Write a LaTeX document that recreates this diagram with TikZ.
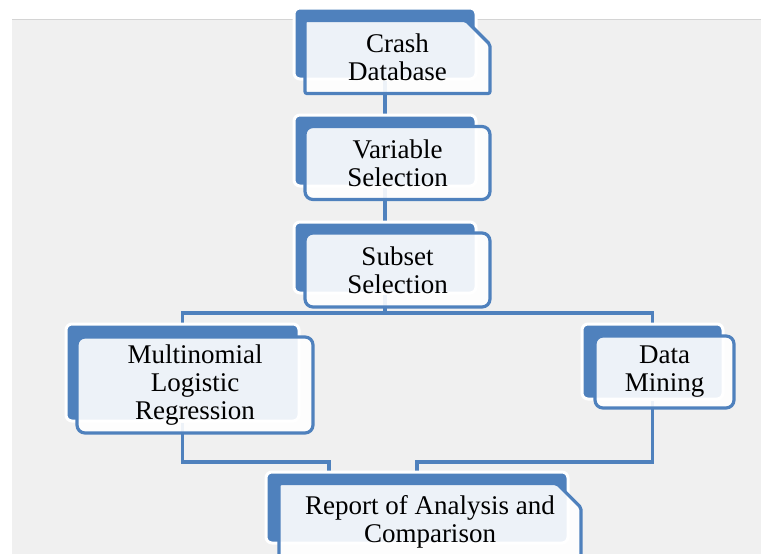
\documentclass[tikz,border=0pt]{standalone}
\usepackage{fontspec}
\setmainfont{Liberation Serif}
\usetikzlibrary{shapes.misc}
\definecolor{flowblue}{RGB}{79,129,189}
\definecolor{panelgray}{RGB}{240,240,240}
\definecolor{rulegray}{RGB}{212,212,212}
\pgfdeclarelayer{panel}
\pgfdeclarelayer{links}
\pgfsetlayers{panel,links,main}
\begin{document}
\begin{tikzpicture}[x=1pt, y=-1pt,
    backbox/.style={draw=white, line width=3pt, fill=flowblue, rounded corners=6pt, inner sep=0pt},
    frontbox/.style={draw=flowblue, line width=3.2pt, fill=white, fill opacity=0.9, text opacity=1,
        rounded corners=8pt, inner sep=0pt, align=center, font=\fontsize{27}{28}\selectfont},
    snipbox/.style={frontbox, shape=chamfered rectangle, chamfered rectangle corners=north east,
        chamfered rectangle xsep=12pt, chamfered rectangle ysep=12pt, rounded corners=2pt},
    link/.style={draw=flowblue, line width=3.2pt}]
    \useasboundingbox (0,0) rectangle (761,554);
    \begin{pgfonlayer}{panel}
        \fill[panelgray] (12,19) rectangle (761,554);
        \draw[rulegray, line width=1pt] (12,19) -- (761,19);
    \end{pgfonlayer}

    % shadow boxes behind
    \node[backbox, minimum width=182, minimum height=71] (crashB) at (385,43.5) {};
    \node[backbox, minimum width=182, minimum height=71] (varB) at (385,150.5) {};
    \node[backbox, minimum width=182, minimum height=71] (subB) at (385,257.5) {};
    \node[backbox, minimum width=233, minimum height=97] (mlrB) at (182.5,372.5) {};
    \node[backbox, minimum width=141, minimum height=75] (dmB) at (652.5,361.5) {};
    \node[backbox, minimum width=302, minimum height=71] (repB) at (417,507.5) {};

    % front boxes with the text
    \node[snipbox, minimum width=185, minimum height=73] (crash) at (397.5,57) {Crash\\Database};
    \node[frontbox, minimum width=185, minimum height=73] (var) at (397.5,163) {Variable\\Selection};
    \node[frontbox, minimum width=185, minimum height=74] (sub) at (397.5,270) {Subset\\Selection};
    \node[frontbox, minimum width=236, minimum height=96] (mlr) at (195,385) {Multinomial\\Logistic\\Regression};
    \node[frontbox, minimum width=139, minimum height=72] (dm) at (664.5,372) {Data\\Mining};
    \node[snipbox, minimum width=302, minimum height=73] (rep) at (430,522) {Report of Analysis and\\Comparison};

    \coordinate (fork) at (385,313);
    \coordinate (joinL) at (329,462);
    \coordinate (joinR) at (417,462);
    \begin{pgfonlayer}{links}
        \draw[link] (crashB) -- (varB);
        \draw[link] (varB) -- (subB);
        \draw[link] (subB) -- (fork);
        \draw[link] (mlrB) |- (fork) -| (dmB);
        \draw[link] (mlrB) |- (joinL) -- (joinL |- repB);
        \draw[link] (dmB) |- (joinR) -- (repB);
    \end{pgfonlayer}
\end{tikzpicture}
\end{document}
